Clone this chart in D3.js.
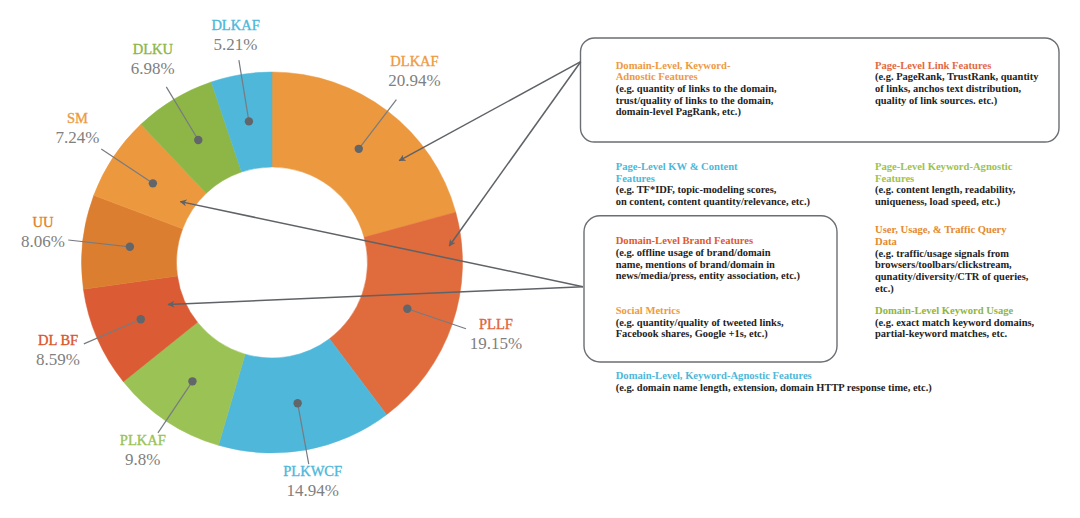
<!DOCTYPE html>
<html>
<head>
<meta charset="utf-8">
<script src="https://cdn.jsdelivr.net/npm/d3@7/dist/d3.min.js"></script>
<style>
  html, body { margin: 0; padding: 0; background: #fff; }
  svg { display: block; }
  text { font-family: "Liberation Serif", "DejaVu Serif", serif; }
</style>
</head>
<body>
<svg id="chart" width="1080" height="518"></svg>
<script>
// ---------- data ----------
const categories = ["DLKAF", "PLLF", "PLKWCF", "PLKAF", "DL BF", "UU", "SM", "DLKU", "DLKAF"];
const values     = [20.94, 19.15, 14.94, 9.8, 8.59, 8.06, 7.24, 6.98, 5.21];
const valueLabels = ["20.94%", "19.15%", "14.94%", "9.8%", "8.59%", "8.06%", "7.24%", "6.98%", "5.21%"];
const sliceColors = ["#EC983E", "#E06B3D", "#4FB7D9", "#9BC254", "#DA5B34", "#DC7E30", "#EC983E", "#8DB646", "#4FB7D9"];
const labelColors = ["#EE9A3F", "#E0643A", "#4DB8DA", "#9BC254", "#D9552E", "#E0822A", "#EE9A3F", "#8DB646", "#4DB8DA"];

// notes (title lines, body lines)
const noteTitles = [
  ["Domain-Level, Keyword-", "Adnostic Features"],
  ["Page-Level Link Features"],
  ["Page-Level KW & Content", "Features"],
  ["Page-Level Keyword-Agnostic", "Features"],
  ["Domain-Level Brand Features"],
  ["User, Usage, & Traffic Query", "Data"],
  ["Social Metrics"],
  ["Domain-Level Keyword Usage"],
  ["Domain-Level, Keyword-Agnostic Features"]
];
const noteBodies = [
  ["(e.g. quantity of links to the domain,", "trust/quality of links to the domain,", "domain-level  PagRank, etc.)"],
  ["(e.g. PageRank, TrustRank, quantity", "of links, anchos text distribution,", "quality of link sources. etc.)"],
  ["(e.g. TF*IDF, topic-modeling scores,", "on content, content quantity/relevance, etc.)"],
  ["(e.g. content length, readability,", "uniqueness, load speed, etc.)"],
  ["(e.g. offline usage of brand/domain", "name, mentions of brand/domain in", "news/media/press, entity association, etc.)"],
  ["(e.g. traffic/usage signals from", "browsers/toolbars/clickstream,", "qunatity/diversity/CTR of queries,", "etc.)"],
  ["(e.g. quantity/quality of tweeted links,", "Facebook shares, Google +1s, etc.)"],
  ["(e.g. exact match keyword domains,", "partial-keyword matches, etc."],
  ["(e.g. domain name length, extension, domain HTTP response time, etc.)"]
];
const noteColors = ["#EE9A3F", "#E4693E", "#4DB8DA", "#9BC254", "#E05A2E", "#E68A2E", "#EE9A3F", "#8DB646", "#4DB8DA"];

// ---------- layout ----------
const cx = 272, cy = 262.5, rOuter = 190.5, rInner = 95.5;
const rDot = 143, rLineEnd = 205, rLabelEdge = 207, labelHalfH = 15;
const notePos = [[615.7, 68.5], [875, 68.5], [615.7, 170], [875, 170], [615.7, 244.3], [875, 233.3], [615.7, 314], [875, 314], [615.7, 379]];
const lineH = 11.7;
const boxes = [
  {x: 580.5, y: 38, w: 478.5, h: 104, r: 14},
  {x: 584, y: 215.7, w: 253, h: 146.3, r: 16}
];
// arrows: origin point on a box, target = [slice index, fraction across slice angle, radius]
const arrowOrigins = [[580.7, 61.7], [580.7, 61.7], [583, 286.7], [583, 286.7]];
const arrowTargets = [[0, 0.687, 163], [1, 0.146, 178], [6, 0.5, 110], [4, 0.546, 112]];

const svg = d3.select("#chart");
const defs = svg.append("defs");
defs.append("marker")
  .attr("id", "arrow")
  .attr("viewBox", "0 0 10 10")
  .attr("refX", 9).attr("refY", 5)
  .attr("markerWidth", 7).attr("markerHeight", 7)
  .attr("markerUnits", "userSpaceOnUse")
  .attr("orient", "auto")
  .append("path")
  .attr("d", "M0,0 L10,5 L0,10 L3,5 Z")
  .attr("fill", "#5f6266");

const pie = d3.pie().sort(null).value(d => d);
const arcs = pie(values);
const arc = d3.arc().innerRadius(rInner).outerRadius(rOuter);
const polar = (r, a) => [cx + r * Math.sin(a), cy - r * Math.cos(a)];

const g = svg.append("g");
g.append("g").attr("transform", `translate(${cx},${cy})`)
  .selectAll("path").data(arcs).enter().append("path")
  .attr("d", arc)
  .attr("fill", (d, i) => sliceColors[i])
  .attr("stroke", (d, i) => sliceColors[i])
  .attr("stroke-width", 0.5);

// leader lines, dots and labels
arcs.forEach((d, i) => {
  const a = (d.startAngle + d.endAngle) / 2;
  const p0 = polar(rDot, a), p1 = polar(rLineEnd, a);
  g.append("line")
    .attr("x1", p0[0]).attr("y1", p0[1]).attr("x2", p1[0]).attr("y2", p1[1])
    .attr("stroke", "#777b80").attr("stroke-width", 1.2);
  g.append("circle").attr("cx", p0[0]).attr("cy", p0[1]).attr("r", 4.2).attr("fill", "#62656a");
  const name = g.append("text")
    .attr("text-anchor", "middle")
    .attr("font-size", 14.5)
    .attr("fill", labelColors[i])
    .attr("stroke", labelColors[i]).attr("stroke-width", 0.35)
    .text(categories[i]);
  const pct = g.append("text")
    .attr("text-anchor", "middle")
    .attr("font-size", 17)
    .attr("fill", "#808080")
    .text(valueLabels[i]);
  const hw = Math.max(name.node().getComputedTextLength(), pct.node().getComputedTextLength()) / 2;
  const ext = Math.abs(Math.sin(a)) * hw + Math.abs(Math.cos(a)) * labelHalfH;
  const pl = polar(rLabelEdge + ext, a);
  name.attr("x", pl[0]).attr("y", pl[1] - 10);
  pct.attr("x", pl[0]).attr("y", pl[1] + 10);
});

// boxes
boxes.forEach(b => {
  svg.append("rect")
    .attr("x", b.x).attr("y", b.y).attr("width", b.w).attr("height", b.h)
    .attr("rx", b.r).attr("ry", b.r)
    .attr("fill", "none").attr("stroke", "#6b6e72").attr("stroke-width", 1.4);
});

// arrows
arrowTargets.forEach((t, i) => {
  const s = arcs[t[0]];
  const a = s.startAngle + (s.endAngle - s.startAngle) * t[1];
  const p = polar(t[2], a);
  const o = arrowOrigins[i];
  svg.append("line")
    .attr("x1", o[0]).attr("y1", o[1]).attr("x2", p[0]).attr("y2", p[1])
    .attr("stroke", "#5f6266").attr("stroke-width", 1.5)
    .attr("marker-end", "url(#arrow)");
});

// notes
noteTitles.forEach((title, i) => {
  const [x, y] = notePos[i];
  const t = svg.append("text").attr("x", x).attr("y", y);
  let k = 0;
  title.forEach(line => {
    t.append("tspan").attr("x", x).attr("y", y + k * lineH)
      .attr("font-size", 10.6).attr("font-weight", "bold")
      .attr("fill", noteColors[i]).text(line);
    k++;
  });
  noteBodies[i].forEach(line => {
    t.append("tspan").attr("x", x).attr("y", y + k * lineH)
      .attr("font-size", 10.45).attr("font-weight", "bold")
      .attr("fill", "#232323").text(line);
    k++;
  });
});
</script>
</body>
</html>
